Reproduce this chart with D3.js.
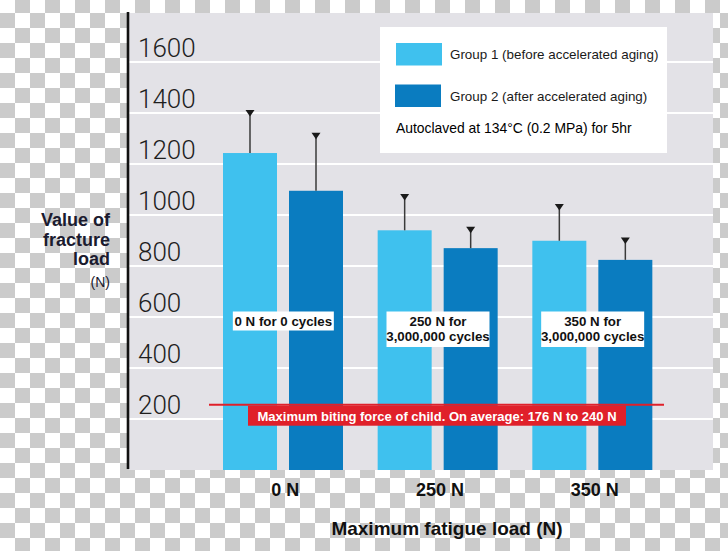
<!DOCTYPE html>
<html>
<head>
<meta charset="utf-8">
<script src="https://cdn.jsdelivr.net/npm/d3@7"></script>
<style>
  html, body { margin: 0; padding: 0; background: #fff; }
  svg { display: block; }
</style>
</head>
<body>
<svg id="chart" width="728" height="551"></svg>
<script>
// ---- data ----
const categories = ["0 N", "250 N", "350 N"];
const seriesNames = ["Group 1 (before accelerated aging)", "Group 2 (after accelerated aging)"];
const group1Means = [1243, 940, 899];
const group1SD = [169, 142, 144];
const group2Means = [1095, 870, 824];
const group2SD = [228, 84, 88];
const yTicks = [200, 400, 600, 800, 1000, 1200, 1400, 1600];
const conditionLabels = [["0 N for 0 cycles"], ["250 N for", "3,000,000 cycles"], ["350 N for", "3,000,000 cycles"]];
const legendNote = "Autoclaved at 134°C (0.2 MPa) for 5hr";
const referenceValue = 256;
const referenceLabel = "Maximum biting force of child. On average: 176 N to 240 N";
const yTitleLines = ["Value of", "fracture", "load"];
const yUnit = "(N)";
const xTitle = "Maximum fatigue load (N)";

const colors = ["#3fc1ee", "#0a7cc0"];
const svg = d3.select("#chart");
const W = 728, H = 551;
const plot = { left: 129, right: 713, top: 13, bottom: 470 };

// checkerboard background
const defs = svg.append("defs");
const pat = defs.append("pattern").attr("id", "checker")
  .attr("patternUnits", "userSpaceOnUse").attr("x", 0).attr("y", -2)
  .attr("width", 30).attr("height", 30);
pat.append("rect").attr("width", 30).attr("height", 30).attr("fill", "#ffffff");
pat.append("rect").attr("x", 15).attr("y", 0).attr("width", 15).attr("height", 15).attr("fill", "#cbcbcb");
pat.append("rect").attr("x", 0).attr("y", 15).attr("width", 15).attr("height", 15).attr("fill", "#cbcbcb");
svg.append("rect").attr("width", W).attr("height", H).attr("fill", "url(#checker)");

// scales
const y = d3.scaleLinear().domain([0, 1600]).range([plot.bottom, 62]);
const x = d3.scaleBand().domain(categories).range([206, 670]).padding(0);
const xs = d3.scaleBand().domain([0, 1]).range([17, 137]).paddingInner(0.182).paddingOuter(0);

// plot background
svg.append("rect").attr("x", plot.left).attr("y", plot.top)
  .attr("width", plot.right - plot.left).attr("height", plot.bottom - plot.top)
  .attr("fill", "#e3e2e7");

// gridlines
svg.append("g").selectAll("line").data(yTicks).join("line")
  .attr("x1", plot.left).attr("x2", plot.right)
  .attr("y1", d => y(d)).attr("y2", d => y(d))
  .attr("stroke", "#ffffff").attr("stroke-width", 2);

// y tick labels
svg.append("g").selectAll("text").data(yTicks).join("text")
  .attr("x", 138).attr("y", d => y(d) - 5)
  .attr("font-family", "Roboto, 'Liberation Sans', sans-serif")
  .attr("font-weight", 300).attr("font-size", 26).attr("fill", "#1e1e1e")
  .text(d => d);

// bars
const rows = [];
categories.forEach((c, i) => {
  rows.push({ cat: c, s: 0, mean: group1Means[i], sd: group1SD[i] });
  rows.push({ cat: c, s: 1, mean: group2Means[i], sd: group2SD[i] });
});
svg.append("g").selectAll("rect").data(rows).join("rect")
  .attr("x", d => x(d.cat) + xs(d.s))
  .attr("width", xs.bandwidth())
  .attr("y", d => y(d.mean))
  .attr("height", d => y(0) - y(d.mean))
  .attr("fill", d => colors[d.s]);

// error bars
const eb = svg.append("g");
rows.forEach(d => {
  const cx = x(d.cat) + xs(d.s) + xs.bandwidth() / 2;
  const top = y(d.mean + d.sd);
  eb.append("line").attr("x1", cx).attr("x2", cx)
    .attr("y1", y(d.mean)).attr("y2", top + 2)
    .attr("stroke", "#3a3a3a").attr("stroke-width", 1.5);
  eb.append("path")
    .attr("d", `M${cx - 4.5},${top} L${cx + 4.5},${top} L${cx},${top + 6.5} Z`)
    .attr("fill", "#1a1a1a");
});

// condition labels
const cl = svg.append("g").attr("font-family", "'Liberation Sans', Arial, sans-serif")
  .attr("font-weight", "bold").attr("font-size", 13.3).attr("fill", "#111");
categories.forEach((c, i) => {
  const cx = x(c) + x.bandwidth() / 2;
  const lines = conditionLabels[i];
  const h = lines.length === 1 ? 19 : 35.5;
  const w = lines.length === 1 ? 101 : 103;
  cl.append("rect").attr("x", cx - w / 2).attr("y", 311.5)
    .attr("width", w).attr("height", h).attr("fill", "#ffffff");
  lines.forEach((t, j) => {
    cl.append("text").attr("x", cx).attr("y", (lines.length === 1 ? 326 : 326 + j * 14.5))
      .attr("text-anchor", "middle").text(t);
  });
});

// reference line
const ry = y(referenceValue);
svg.append("line").attr("x1", 209).attr("x2", 664).attr("y1", ry).attr("y2", ry)
  .attr("stroke", "#e0202a").attr("stroke-width", 2);
svg.append("rect").attr("x", 248).attr("y", ry + 1).attr("width", 378).attr("height", 20)
  .attr("fill", "#e0202a");
svg.append("text").attr("x", 437).attr("y", ry + 16)
  .attr("text-anchor", "middle").attr("font-family", "'Liberation Sans', Arial, sans-serif")
  .attr("font-weight", "bold").attr("font-size", 13).attr("fill", "#ffffff")
  .text(referenceLabel);

// y axis line
svg.append("line").attr("x1", 128).attr("x2", 128).attr("y1", 12).attr("y2", 469)
  .attr("stroke", "#111").attr("stroke-width", 2.6);

// legend
const lg = svg.append("g").attr("font-family", "'Liberation Sans', Arial, sans-serif")
  .attr("font-size", 13.4).attr("fill", "#1a1a1a");
lg.append("rect").attr("x", 380).attr("y", 27).attr("width", 287).attr("height", 126).attr("fill", "#ffffff");
seriesNames.forEach((n, i) => {
  lg.append("rect").attr("x", 396 - i).attr("y", 43 + i * 41.5).attr("width", 46).attr("height", 22.5)
    .attr("fill", colors[i]);
  lg.append("text").attr("x", 450).attr("y", 58.5 + i * 42).text(n);
});
lg.append("text").attr("x", 396).attr("y", 133).attr("font-size", 13.9).attr("fill", "#000")
  .text(legendNote);

// x labels
svg.append("g").selectAll("text").data(categories).join("text")
  .attr("x", d => x(d) + x.bandwidth() / 2 + 2).attr("y", 496)
  .attr("text-anchor", "middle").attr("font-family", "'Liberation Sans', Arial, sans-serif")
  .attr("font-weight", "bold").attr("font-size", 18).attr("fill", "#111")
  .text(d => d);

// x title
svg.append("text").attr("x", 447).attr("y", 535).attr("text-anchor", "middle")
  .attr("font-family", "'Liberation Sans', Arial, sans-serif")
  .attr("font-weight", "bold").attr("font-size", 19).attr("fill", "#111")
  .text(xTitle);

// y title
const yt = svg.append("g").attr("font-family", "'Liberation Sans', Arial, sans-serif")
  .attr("font-weight", "bold").attr("font-size", 18).attr("fill", "#1b1b2f")
  .attr("text-anchor", "end");
yTitleLines.forEach((t, i) => {
  yt.append("text").attr("x", 110).attr("y", 226 + i * 19.5).text(t);
});
svg.append("text").attr("x", 110).attr("y", 287).attr("text-anchor", "end")
  .attr("font-family", "'Liberation Sans', Arial, sans-serif")
  .attr("font-size", 14).attr("fill", "#1b1b2f").text(yUnit);
</script>
</body>
</html>
